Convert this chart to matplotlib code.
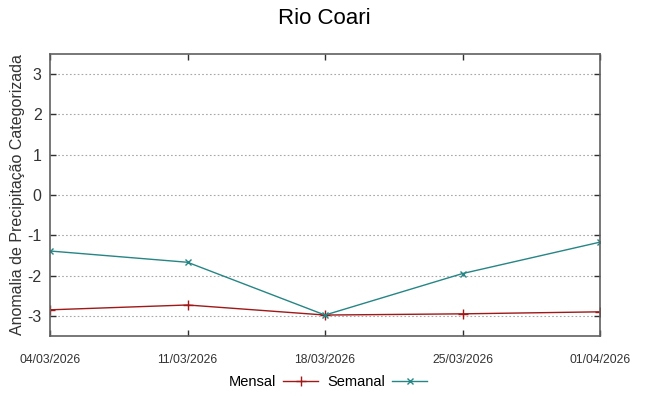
import matplotlib
matplotlib.use('Agg')
import matplotlib.pyplot as plt

plt.rcParams['font.family'] = ['Liberation Sans', 'DejaVu Sans']

# ---- data ----
datas = ['04/03/2026', '11/03/2026', '18/03/2026', '25/03/2026', '01/04/2026']
mensal = [-2.85, -2.73, -2.98, -2.95, -2.90]
semanal = [-1.39, -1.67, -2.98, -1.95, -1.17]

x = list(range(len(datas)))

fig = plt.figure(figsize=(6.49, 3.96), dpi=100)
ax = fig.add_axes([50/649, 60/396, 550/649, 282/396])

ax.plot(x, mensal, color='#a01818', lw=1.0, marker='+', ms=7, mew=1.0, label='Mensal')
ax.plot(x, semanal, color='#268585', lw=1.0, marker='x', ms=5, mew=1.0, label='Semanal')

ax.set_xlim(0, 4)
ax.set_ylim(-3.5, 3.5)
ax.set_xticks(x)
ax.set_xticklabels(datas, fontsize=8.7, color='#333333')
ax.set_yticks(range(-3, 4))
ax.set_yticklabels([str(v) for v in range(-3, 4)], fontsize=11.5, color='#333333')

ax.grid(axis='y', color='#a8a8a8', linestyle=(0, (1.5, 2)), lw=0.8)
ax.tick_params(direction='in', top=True, right=True, length=4, width=1.0, color='#303030')
ax.tick_params(axis='x', pad=13)
ax.tick_params(axis='y', pad=6)
for s in ax.spines.values():
    s.set_color('#606060')
    s.set_linewidth(1.2)

ax.set_ylabel('Anomalia de Precipitação Categorizada', fontsize=11.5, color='#333333')
ax.yaxis.set_label_coords(-25/550, 0.5)
fig.text(0.5, 1 - 19/396, 'Rio Coari', fontsize=16, ha='center', va='center')

fig.legend(loc='center', bbox_to_anchor=(0.505, 14/396), ncol=2, frameon=False,
           markerfirst=False, fontsize=10.5, handlelength=2.4, columnspacing=0.6, handletextpad=0.5)

fig.savefig('out.png', dpi=100)
